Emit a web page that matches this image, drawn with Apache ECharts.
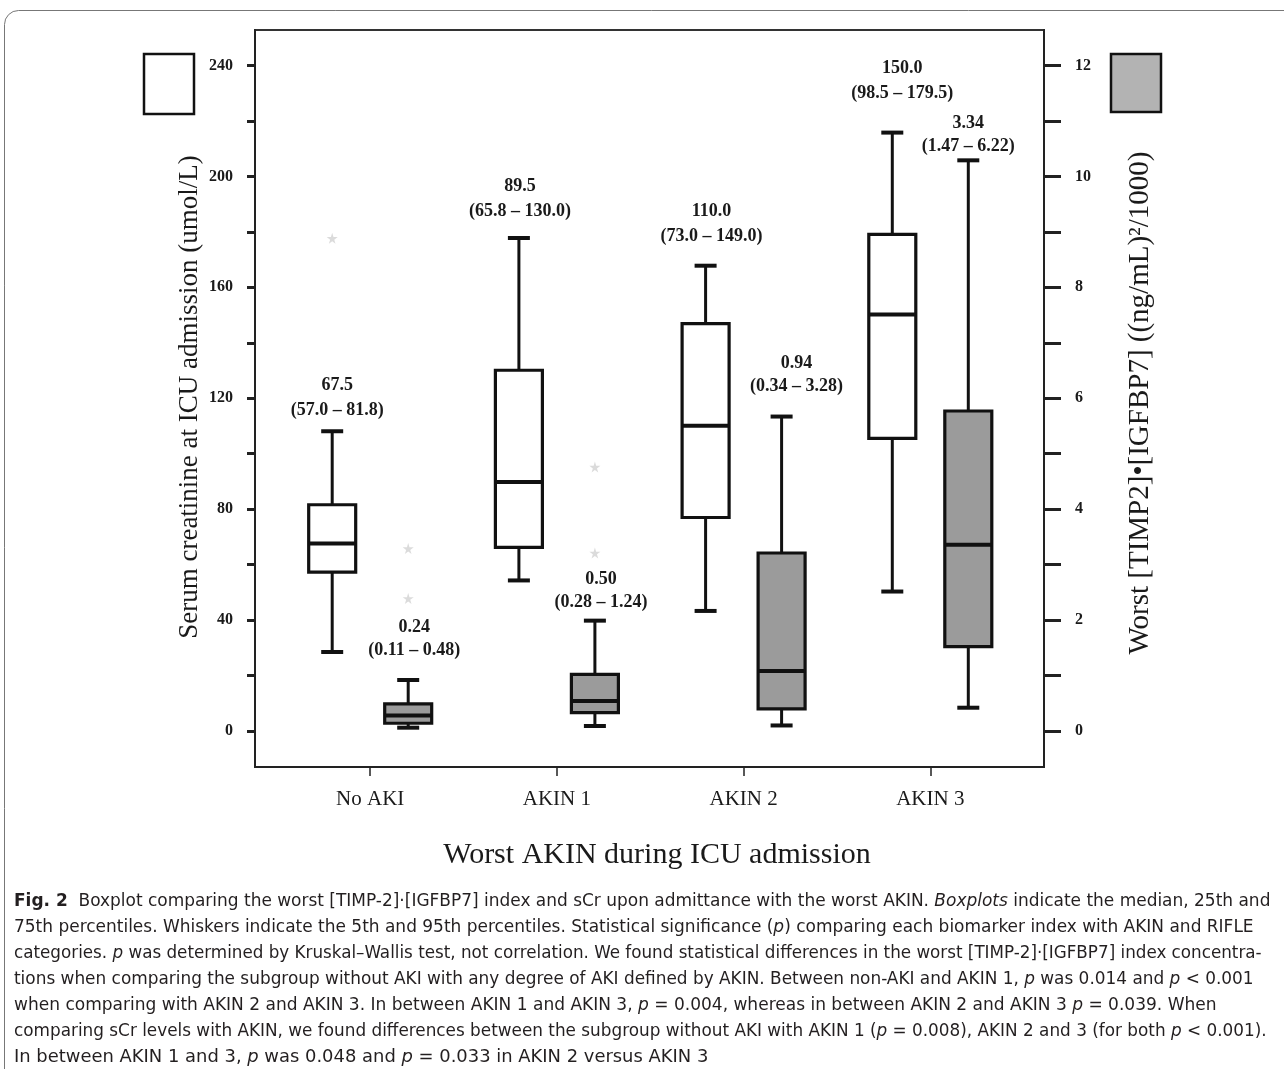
<!DOCTYPE html>
<html><head><meta charset="utf-8">
<script src="https://cdn.jsdelivr.net/npm/echarts@6/dist/echarts.min.js"></script>
<style>html,body{margin:0;padding:0;background:#fff}#c{width:1284px;height:1069px}</style>
</head><body><div id="c"></div>
<script>
// ---------------- DATA ----------------
const categories = ['No AKI', 'AKIN 1', 'AKIN 2', 'AKIN 3'];
// Serum creatinine (left axis, umol/L): whisker low, Q1, median, Q3, whisker high
const sCrLow    = [28.5, 54.3, 43.3, 50.3];
const sCrQ1     = [57.3, 66.2, 77.0, 105.5];
const sCrMedian = [67.6, 89.8, 110.1, 150.2];
const sCrQ3     = [81.6, 130.1, 146.9, 179.1];
const sCrHigh   = [108.1, 177.8, 167.8, 215.8];
const sCrOutliers = [[0, 177.7]];
// Worst [TIMP2]*[IGFBP7] (right axis)
const idxLow    = [0.06, 0.09, 0.10, 0.42];
const idxQ1     = [0.14, 0.33, 0.40, 1.52];
const idxMedian = [0.28, 0.54, 1.08, 3.36];
const idxQ3     = [0.49, 1.02, 3.21, 5.77];
const idxHigh   = [0.92, 1.99, 5.67, 10.29];
const idxOutliers = [[0, 3.29], [0, 2.39], [1, 4.76], [1, 3.21]];
// annotation texts
const sCrMedianText = ['67.5', '89.5', '110.0', '150.0'];
const sCrRangeText  = ['(57.0 \u2013 81.8)', '(65.8 \u2013 130.0)', '(73.0 \u2013 149.0)', '(98.5 \u2013 179.5)'];
const idxMedianText = ['0.24', '0.50', '0.94', '3.34'];
const idxRangeText  = ['(0.11 \u2013 0.48)', '(0.28 \u2013 1.24)', '(0.34 \u2013 3.28)', '(1.47 \u2013 6.22)'];
// axis ticks
const leftTicks = [0, 20, 40, 60, 80, 100, 120, 140, 160, 180, 200, 220, 240];
const leftLabels = [0, 40, 80, 120, 160, 200, 240];
const rightTicks = [0, 1, 2, 3, 4, 5, 6, 7, 8, 9, 10, 11, 12];
const rightLabels = [0, 2, 4, 6, 8, 10, 12];
const xTicks = [0, 1, 2, 3];

// ---------------- LAYOUT ----------------
const SERIF = '"Liberation Serif", "Times New Roman", serif';
const CAPFONT = '"Liberation Sans Narrow", "DejaVu Sans Condensed", "Liberation Sans", sans-serif';
const whiteLayout = { side: -1, gaps: [21, 27, 29, 39], dx: [5, 1, 6, 10], medGap: 25 };
const grayLayout  = { side: 1,  gaps: [30, 18, 30, 14], dx: [6, 6, 15, 0], medGap: 23 };

function rows(low, q1, med, q3, high) {
  return categories.map((c, i) => [i, low[i], q1[i], med[i], q3[i], high[i]]);
}

function makeRender(lay, fill, medTexts, rangeTexts, bw) {
  return function (params, api) {
    const i = api.value(0);
    const base = api.coord([i, api.value(3)]);
    const cx = base[0] + lay.side * 38;
    const y = k => api.coord([i, api.value(k)])[1];
    const yLow = y(1), yQ1 = y(2), yMed = y(3), yQ3 = y(4), yHigh = y(5);
    const cw = 22;
    const L = (x1, y1, x2, y2, w) => ({ type: 'line', shape: { x1, y1, x2, y2 }, style: { stroke: '#111', lineWidth: w || 3 } });
    const tx = cx + lay.dx[params.dataIndex];
    const ty = yHigh - lay.gaps[params.dataIndex];
    const txt = (t, yy) => ({ type: 'text', x: tx, y: yy, style: { text: t, fill: '#1a1a1a', fontFamily: SERIF, fontWeight: 'bold', fontSize: 18, align: 'center', verticalAlign: 'middle' } });
    return { type: 'group', children: [
      L(cx, yHigh, cx, yQ3), L(cx, yQ1, cx, yLow),
      L(cx - cw / 2, yHigh, cx + cw / 2, yHigh, 4), L(cx - cw / 2, yLow, cx + cw / 2, yLow, 4),
      { type: 'rect', shape: { x: cx - bw / 2, y: yQ3, width: bw, height: yQ1 - yQ3 }, style: { fill: fill, stroke: '#111', lineWidth: 3.2 } },
      L(cx - bw / 2, yMed, cx + bw / 2, yMed, 4),
      txt(rangeTexts[i], ty),
      txt(medTexts[i], ty - lay.medGap)
    ]};
  };
}

// caption lines
const captionLines = [
  '{b|Fig. 2}  Boxplot comparing the worst [TIMP-2]\u00b7[IGFBP7] index and sCr upon admittance with the worst AKIN. {i|Boxplots} indicate the median, 25th and',
  '75th percentiles. Whiskers indicate the 5th and 95th percentiles. Statistical significance ({i|p}) comparing each biomarker index with AKIN and RIFLE',
  'categories. {i|p} was determined by Kruskal\u2013Wallis test, not correlation. We found statistical differences in the worst [TIMP-2]\u00b7[IGFBP7] index concentra-',
  'tions when comparing the subgroup without AKI with any degree of AKI defined by AKIN. Between non-AKI and AKIN 1, {i|p} was 0.014 and {i|p} < 0.001',
  'when comparing with AKIN 2 and AKIN 3. In between AKIN 1 and AKIN 3, {i|p} = 0.004, whereas in between AKIN 2 and AKIN 3 {i|p} = 0.039. When',
  'comparing sCr levels with AKIN, we found differences between the subgroup without AKI with AKIN 1 ({i|p} = 0.008), AKIN 2 and 3 (for both {i|p} < 0.001).',
  'In between AKIN 1 and 3, {i|p} was 0.048 and {i|p} = 0.033 in AKIN 2 versus AKIN 3'
];
const captionY = [902, 928, 954, 980, 1006, 1032, 1058];
const captionEnd = [1266, 1258, 1266, 1258, 1221, 1271, 713];
const CAPSIZE = 17;
const mctx = document.createElement('canvas').getContext('2d');
mctx.font = CAPSIZE + 'px ' + CAPFONT;
const captionGraphics = captionLines.map((t, k) => {
  const plain = t.replace(/\{[bi]\|([^}]*)\}/g, '$1');
  const w = mctx.measureText(plain).width + 4;
  const s = (captionEnd[k] - 14) / w;
  return { type: 'text', x: 14, y: captionY[k], scaleX: s, style: {
    text: t, fill: '#231f20', fontFamily: CAPFONT, fontSize: CAPSIZE, verticalAlign: 'middle', align: 'left',
    rich: {
      b: { fontFamily: CAPFONT, fontSize: CAPSIZE, fontWeight: 'bold', fill: '#231f20' },
      i: { fontFamily: CAPFONT, fontSize: CAPSIZE, fontStyle: 'italic', fill: '#231f20' }
    } } };
});

const chart = echarts.init(document.getElementById('c'), null, { renderer: 'canvas' });
chart.setOption({
  animation: false,
  backgroundColor: '#fff',
  grid: { left: 255, right: 240, top: 30, bottom: 302, show: true, borderColor: '#333', borderWidth: 2, backgroundColor: 'transparent' },
  xAxis: {
    type: 'value', min: -0.617, max: 3.609,
    axisLine: { show: true, onZero: false, lineStyle: { color: '#222', width: 2 } },
    axisTick: { show: true, customValues: xTicks, length: 9, lineStyle: { color: '#222', width: 1.5 } },
    axisLabel: { customValues: xTicks, formatter: v => categories[v], fontFamily: SERIF, fontSize: 21, color: '#1a1a1a', margin: 22 },
    splitLine: { show: false }
  },
  yAxis: [
    { type: 'value', min: -12.98, max: 252.8, position: 'left',
      axisLine: { show: true, onZero: false, lineStyle: { color: '#222', width: 2 } },
      axisTick: { show: true, customValues: leftTicks, length: 8, lineStyle: { color: '#222', width: 3 } },
      axisLabel: { customValues: leftLabels, fontFamily: SERIF, fontWeight: 'bold', fontSize: 16, color: '#1a1a1a', margin: 22 },
      splitLine: { show: false } },
    { type: 'value', min: -0.649, max: 12.64, position: 'right',
      axisLine: { show: true, onZero: false, lineStyle: { color: '#222', width: 2 } },
      axisTick: { show: true, customValues: rightTicks, length: 17, lineStyle: { color: '#222', width: 3 } },
      axisLabel: { customValues: rightLabels, fontFamily: SERIF, fontWeight: 'bold', fontSize: 16, color: '#1a1a1a', margin: 31 },
      splitLine: { show: false } }
  ],
  series: [
    { type: 'custom', name: 'sCr', yAxisIndex: 0, silent: true,
      encode: { x: 0, y: [1, 2, 3, 4, 5] },
      renderItem: makeRender(whiteLayout, '#ffffff', sCrMedianText, sCrRangeText, 47),
      data: rows(sCrLow, sCrQ1, sCrMedian, sCrQ3, sCrHigh) },
    { type: 'custom', name: 'index', yAxisIndex: 1, silent: true,
      encode: { x: 0, y: [1, 2, 3, 4, 5] },
      renderItem: makeRender(grayLayout, '#9b9b9b', idxMedianText, idxRangeText, 47),
      data: rows(idxLow, idxQ1, idxMedian, idxQ3, idxHigh) },
    { type: 'scatter', yAxisIndex: 0, silent: true, symbol: 'path://M50,0 L61,35 L98,35 L68,57 L79,91 L50,70 L21,91 L32,57 L2,35 L39,35 Z',
      symbolSize: 11, symbolOffset: [-38, 0], itemStyle: { color: '#d2d2d2' }, data: sCrOutliers },
    { type: 'scatter', yAxisIndex: 1, silent: true, symbol: 'path://M50,0 L61,35 L98,35 L68,57 L79,91 L50,70 L21,91 L32,57 L2,35 L39,35 Z',
      symbolSize: 11, symbolOffset: [38, 0], itemStyle: { color: '#d2d2d2' }, data: idxOutliers }
  ],
  graphic: [
    { type: 'rect', z: -10, shape: { x: 4.5, y: 10.5, width: 1300, height: 1100, r: 14 }, style: { fill: 'none', stroke: '#777', lineWidth: 1 } },
    { type: 'rect', shape: { x: 144, y: 54, width: 50, height: 60 }, style: { fill: '#fff', stroke: '#111', lineWidth: 2.5 } },
    { type: 'rect', shape: { x: 1111, y: 54, width: 50, height: 58 }, style: { fill: '#b3b3b3', stroke: '#111', lineWidth: 2.5 } },
    { type: 'text', x: 190, y: 397, rotation: Math.PI / 2, style: { text: 'Serum creatinine at ICU admission (umol/L)', fontFamily: SERIF, fontSize: 27, fill: '#1a1a1a', align: 'center', verticalAlign: 'middle' } },
    { type: 'text', x: 1140, y: 403, rotation: Math.PI / 2, style: { text: 'Worst [TIMP2]\u2022[IGFBP7] ((ng/mL)\u00b2/1000)', fontFamily: SERIF, fontSize: 29, fill: '#1a1a1a', align: 'center', verticalAlign: 'middle' } },
    { type: 'text', x: 657, y: 855, style: { text: 'Worst AKIN during ICU admission', fontFamily: SERIF, fontSize: 30, fill: '#1a1a1a', align: 'center', verticalAlign: 'middle' } }
  ].concat(captionGraphics)
});
</script></body></html>
